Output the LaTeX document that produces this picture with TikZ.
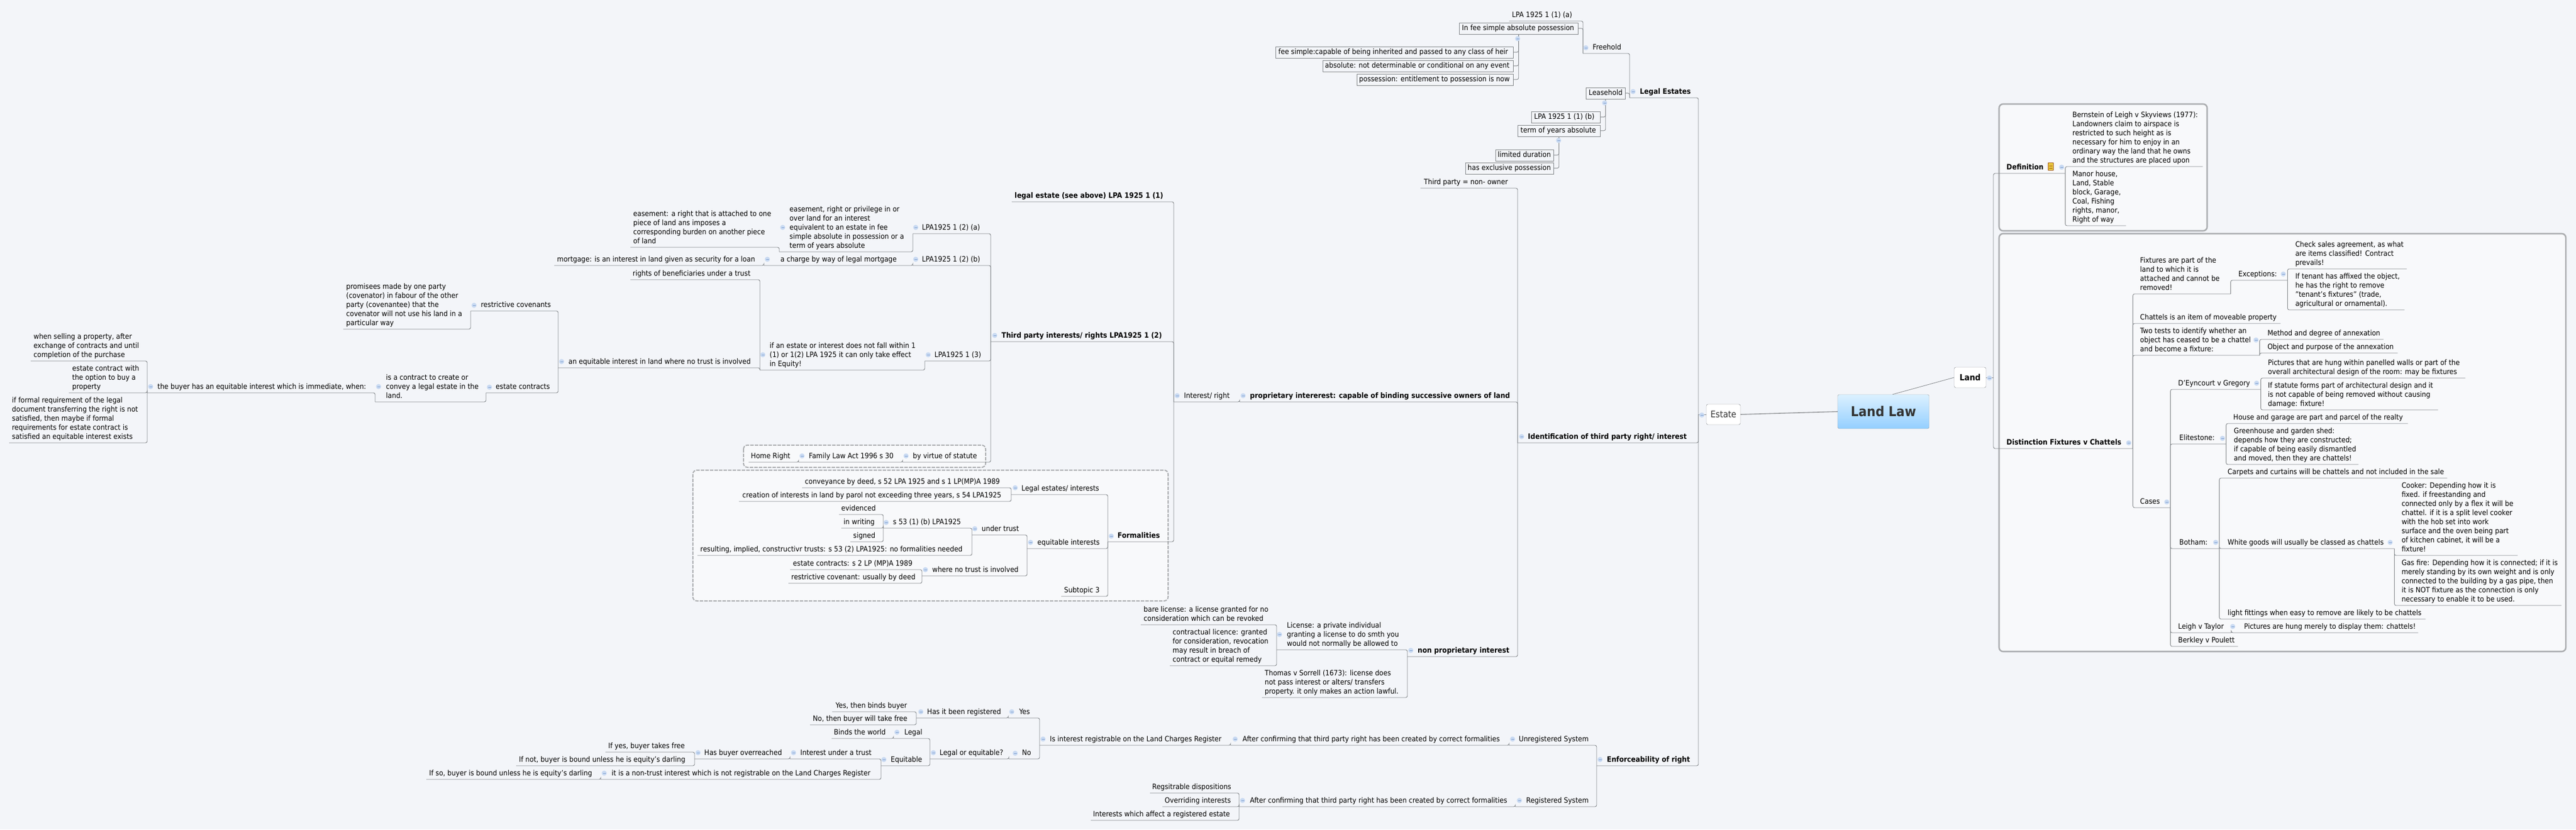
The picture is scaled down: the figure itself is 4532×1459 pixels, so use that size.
\documentclass[tikz,border=0pt]{standalone}
\usepackage{fontspec}
\setmainfont{DejaVu Sans Condensed}
\definecolor{pagebg}{HTML}{F3F5F9}
\definecolor{bandbg}{HTML}{F8F9FB}
\definecolor{linkgray}{HTML}{808488}
\definecolor{bandgray}{HTML}{ABADB0}
\definecolor{foldblue}{HTML}{C9DAF2}
\definecolor{foldline}{HTML}{7F9FCF}
\tikzset{
    topic/.style={anchor=south west, inner xsep=0pt, inner ysep=1.2pt, font=\fontsize{13}{16}\selectfont},
    boxed/.style={draw=linkgray, inner ysep=2pt},
    link/.style={draw=linkgray, line width=.9pt, rounded corners=3pt},
    fold/.style={circle, fill=foldblue, inner sep=0pt, minimum size=9pt,
        path picture={\draw[foldline, line width=.8pt] ([xshift=-2.5pt]path picture bounding box.center) -- ([xshift=2.5pt]path picture bounding box.center);}},
    band/.style={draw=bandgray, fill=bandbg, line width=2.6pt, rounded corners=7pt},
    dashband/.style={draw=bandgray, fill=bandbg, line width=2pt, rounded corners=7pt, dash pattern=on 6pt off 2pt},
    bubble/.style={draw=linkgray, fill=white, rounded corners=3pt, inner sep=0pt, text=black!80},
}
\newcommand{\headtext}{\fontsize{13.1}{16}\selectfont\bfseries}
% name-left, text start, right, underline y
\newcommand{\topicnode}[7][]{%
    \pgfmathsetmacro\wid{#5-#3}\pgfmathsetmacro\ind{#4-#3}%
    \node[topic,#1] (#2) at (#3,#6) {\makebox[\wid pt][l]{\hspace*{\ind pt}\begin{tabular}[b]{@{}l@{}}#7\end{tabular}}};}

\begin{document}
\begin{tikzpicture}[x=1pt,y=-1pt]
    \useasboundingbox (0,0) rectangle (4532,1459);
    \fill[pagebg] (0,0) rectangle (4532,1459);

    % boundaries
    \draw[dashband] (1308,783) rectangle (1734,822);
    \draw[dashband] (1219,827) rectangle (2055,1057);
    \draw[band] (3517,183) rectangle (3883,406);
    \draw[band] (3517,411) rectangle (4514,1146);

    % far left
    \topicnode{whenselling}{54}{59}{259}{635}{when selling a property, after\\exchange of contracts and until\\completion of the purchase}
    \topicnode{estoption}{121}{127}{259}{691}{estate contract with\\the option to buy a\\property}
    \topicnode{ifformal}{16}{21}{259}{779}{if formal requirement of the legal\\document transferring the right is not\\satisfied, then maybe if formal\\requirements for estate contract is\\satisfied an equitable interest exists}
    \topicnode{buyer}{259}{277}{660}{691}{the buyer has an equitable interest which is immediate, when:}
    \topicnode{contract}{660}{679}{855}{707}{is a contract to create or\\convey a legal estate in the\\land.}
    \topicnode{estcontracts}{855}{872}{982}{691}{estate contracts}
    \topicnode{promisees}{604}{609}{828}{579}{promisees made by one party\\(covenator) in fabour of the other\\party (covenantee) that the\\covenator will not use his land in a\\particular way}
    \topicnode{restrictive}{828}{846}{982}{547}{restrictive covenants}
    \topicnode{equitland}{982}{1000}{1337}{647}{an equitable interest in land where no trust is involved}

    % third party rights
    \topicnode{easeright}{1109}{1114}{1371}{435}{easement: a right that is attached to one\\piece of land ans imposes a\\corresponding burden on another piece\\of land}
    \topicnode{easepriv}{1371}{1389}{1606}{443}{easement, right or privilege in or\\over land for an interest\\equivalent to an estate in fee\\simple absolute in possession or a\\term of years absolute}
    \topicnode{lpaa}{1606}{1622}{1743}{411}{LPA1925 1 (2) (a)}
    \topicnode{mortgage}{975}{980}{1344}{467}{mortgage: is an interest in land given as security for a loan}
    \topicnode{charge}{1344}{1373}{1606}{467}{a charge by way of legal mortgage}
    \topicnode{lpab}{1606}{1622}{1743}{467}{LPA1925 1 (2) (b)}
    \topicnode{rightsben}{1109}{1113}{1337}{492}{rights of beneficiaries under a trust}
    \topicnode{ifestate}{1337}{1354}{1627}{651}{if an estate or interest does not fall within 1\\(1) or 1(2) LPA 1925 it can only take effect\\in Equity!}
    \topicnode{lpac}{1627}{1644}{1743}{635}{LPA1925 1 (3)}
    \topicnode{homeright}{1317}{1321}{1405}{813}{Home Right}
    \topicnode{familyact}{1405}{1423}{1588}{813}{Family Law Act 1996 s 30}
    \topicnode{statute}{1588}{1606}{1743}{813}{by virtue of statute}
    \topicnode{legalsee}{1780}{1785}{2065}{355}{\headtext legal estate (see above) LPA 1925 1 (1)}
    \topicnode{thirdrights}{1743}{1762}{2065}{601}{\headtext Third party interests/ rights LPA1925 1 (2)}

    % formalities
    \topicnode{conveyance}{1411}{1416}{1779}{858}{conveyance by deed, s 52 LPA 1925 and s 1 LP(MP)A 1989}
    \topicnode{creation}{1300}{1306}{1779}{882}{creation of interests in land by parol not exceeding three years, s 54 LPA1925}
    \topicnode{legalint}{1779}{1797}{1949}{870}{Legal estates/ interests}
    \topicnode{evidenced}{1476}{1480}{1554}{905}{evidenced}
    \topicnode{inwriting}{1480}{1484}{1554}{929}{in writing}
    \topicnode{signed}{1496}{1501}{1554}{953}{signed}
    \topicnode{sfiftythree}{1554}{1571}{1710}{929}{s 53 (1) (b) LPA1925}
    \topicnode{resulting}{1227}{1232}{1710}{977}{resulting, implied, constructivr trusts: s 53 (2) LPA1925: no formalities needed}
    \topicnode{undertrust}{1710}{1727}{1807}{941}{under trust}
    \topicnode{estcontwo}{1390}{1395}{1622}{1002}{estate contracts: s 2 LP (MP)A 1989}
    \topicnode{restcov}{1387}{1392}{1622}{1026}{restrictive covenant: usually by deed}
    \topicnode{notrust}{1622}{1640}{1807}{1013}{where no trust is involved}
    \topicnode{equitint}{1807}{1825}{1949}{965}{equitable interests}
    \topicnode{subtopic}{1867}{1872}{1949}{1049}{Subtopic 3}
    \topicnode{formal}{1949}{1966}{2065}{953}{\headtext Formalities}

    % registers
    \topicnode{yesbinds}{1464}{1470}{1612}{1252}{Yes, then binds buyer}
    \topicnode{nobuyer}{1425}{1430}{1612}{1275}{No, then buyer will take free}
    \topicnode{registered}{1612}{1631}{1774}{1263}{Has it been registered}
    \topicnode{yesnode}{1774}{1793}{1829}{1263}{Yes}
    \topicnode{binds}{1463}{1467}{1572}{1299}{Binds the world}
    \topicnode{legalnode}{1572}{1591}{1636}{1299}{Legal}
    \topicnode{ifyes}{1065}{1070}{1222}{1323}{If yes, buyer takes free}
    \topicnode{ifnot}{908}{913}{1222}{1347}{If not, buyer is bound unless he is equity's darling}
    \topicnode{overreach}{1222}{1239}{1390}{1335}{Has buyer overreached}
    \topicnode{trustint}{1390}{1408}{1550}{1335}{Interest under a trust}
    \topicnode{ifso}{750}{755}{1057}{1371}{If so, buyer is bound unless he is equity's darling}
    \topicnode{nontrust}{1057}{1076}{1550}{1371}{it is a non-trust interest which is not registrable on the Land Charges Register}
    \topicnode{equitbl}{1550}{1567}{1636}{1347}{Equitable}
    \topicnode{legalq}{1636}{1653}{1775}{1335}{Legal or equitable?}
    \topicnode{nonode}{1775}{1798}{1829}{1335}{No}
    \topicnode{isreg}{1829}{1847}{2165}{1311}{Is interest registrable on the Land Charges Register}
    \topicnode{confirmone}{2165}{2186}{2655}{1311}{After confirming that third party right has been created by correct formalities}
    \topicnode{unreg}{2655}{2672}{2809}{1311}{Unregistered System}
    \topicnode{regdisp}{2023}{2027}{2180}{1395}{Regsitrable dispositions}
    \topicnode{overriding}{2045}{2049}{2180}{1419}{Overriding interests}
    \topicnode{affect}{1919}{1923}{2180}{1443}{Interests which affect a registered estate}
    \topicnode{confirmtwo}{2180}{2199}{2666}{1419}{After confirming that third party right has been created by correct formalities}
    \topicnode{regsys}{2666}{2685}{2809}{1419}{Registered System}
    \topicnode{enforce}{2809}{2827}{2988}{1347}{\headtext Enforceability of right}

    % licences
    \topicnode{bare}{2007}{2012}{2246}{1099}{bare license: a license granted for no\\consideration which can be revoked}
    \topicnode{contractual}{2058}{2063}{2246}{1171}{contractual licence: granted\\for consideration, revocation\\may result in breach of\\contract or equital remedy}
    \topicnode{license}{2246}{2264}{2476}{1143}{License: a private individual\\granting a license to do smth you\\would not normally be allowed to}
    \topicnode{thomas}{2220}{2225}{2476}{1227}{Thomas v Sorrell (1673): license does\\not pass interest or alters/ transfers\\property. it only makes an action lawful.}
    \topicnode{nonprop}{2476}{2494}{2669}{1155}{\headtext non proprietary interest}
    \topicnode{interest}{2065}{2083}{2181}{707}{Interest/ right}
    \topicnode{propint}{2181}{2199}{2670}{707}{\headtext proprietary intererest: capable of binding successive owners of land}
    \topicnode{thirdowner}{2499}{2505}{2670}{331}{Third party = non- owner}
    \topicnode{identif}{2670}{2688}{2988}{779}{\headtext Identification of third party right/ interest}

    % legal estates
    \topicnode{lpaone}{2655}{2660}{2784}{37}{LPA 1925 1 (1) (a)}
    \topicnode[boxed]{infee}{2567}{2572}{2776}{60}{In fee simple absolute possession}
    \topicnode[boxed]{feesimple}{2244}{2249}{2662}{102}{fee simple:capable of being inherited and passed to any class of heir}
    \topicnode[boxed]{absolute}{2327}{2331}{2662}{126}{absolute: not determinable or conditional on any event}
    \topicnode[boxed]{possession}{2387}{2391}{2662}{150}{possession: entitlement to possession is now}
    \topicnode{freehold}{2785}{2802}{2867}{94}{Freehold}
    \topicnode[boxed]{leasehold}{2790}{2795}{2859}{174}{Leasehold}
    \topicnode[boxed]{lpatwo}{2694}{2699}{2815}{216}{LPA 1925 1 (1) (b)}
    \topicnode[boxed]{termyears}{2670}{2675}{2815}{240}{term of years absolute}
    \topicnode[boxed]{limited}{2631}{2635}{2733}{283}{limited duration}
    \topicnode[boxed]{exclusive}{2578}{2582}{2733}{306}{has exclusive possession}
    \topicnode{legalest}{2867}{2885}{2988}{172}{\headtext Legal Estates}

    % land side
    \topicnode{definition}{3507}{3530}{3633}{305}{\headtext Definition}
    \topicnode{bernstein}{3633}{3646}{3875}{293}{Bernstein of Leigh v Skyviews (1977):\\Landowners claim to airspace is\\restricted to such height as is\\necessary for him to enjoy in an\\ordinary way the land that he owns\\and the structures are placed upon}
    \topicnode{manor}{3633}{3646}{3740}{397}{Manor house,\\Land, Stable\\block, Garage,\\Coal, Fishing\\rights, manor,\\Right of way}
    \topicnode{distinction}{3507}{3530}{3752}{789}{\headtext Distinction Fixtures v Chattels}
    \topicnode{fixtures}{3752}{3765}{3924}{517}{Fixtures are part of the\\land to which it is\\attached and cannot be\\removed!}
    \topicnode{exceptions}{3924}{3938}{4024}{493}{Exceptions:}
    \topicnode{checksales}{4024}{4038}{4234}{473}{Check sales agreement, as what\\are items classified! Contract\\prevails!}
    \topicnode{iftenant}{4024}{4038}{4230}{545}{If tenant has affixed the object,\\he has the right to remove\\"tenant's fixtures" (trade,\\agricultural or ornamental).}
    \topicnode{chattels}{3752}{3765}{4012}{569}{Chattels is an item of moveable property}
    \topicnode{twotests}{3752}{3765}{3975}{625}{Two tests to identify whether an\\object has ceased to be a chattel\\and become a fixture:}
    \topicnode{method}{3975}{3989}{4193}{597}{Method and degree of annexation}
    \topicnode{objectpur}{3975}{3989}{4218}{621}{Object and purpose of the annexation}
    \topicnode{cases}{3752}{3765}{3818}{893}{Cases}
    \topicnode{deyncourt}{3818}{3832}{3977}{685}{D'Eyncourt v Gregory}
    \topicnode{picturesin}{3977}{3990}{4337}{665}{Pictures that are hung within panelled walls or part of the\\overall architectural design of the room: may be fixtures}
    \topicnode{ifstatute}{3977}{3990}{4289}{721}{If statute forms part of architectural design and it\\is not capable of being removed without causing\\damage: fixture!}
    \topicnode{elitestone}{3818}{3834}{3916}{781}{Elitestone:}
    \topicnode{housegar}{3916}{3929}{4236}{745}{House and garage are part and parcel of the realty}
    \topicnode{greenhouse}{3916}{3930}{4149}{817}{Greenhouse and garden shed:\\depends how they are constructed;\\if capable of being easily dismantled\\and moved, then they are chattels!}
    \topicnode{botham}{3818}{3834}{3904}{965}{Botham:}
    \topicnode{carpets}{3904}{3919}{4305}{841}{Carpets and curtains will be chattels and not included in the sale}
    \topicnode{whitegoods}{3904}{3919}{4212}{965}{White goods will usually be classed as chattels}
    \topicnode{cooker}{4212}{4225}{4429}{977}{Cooker: Depending how it is\\fixed. if freestanding and\\connected only by a flex it will be\\chattel. if it is a split level cooker\\with the hob set into work\\surface and the oven being part\\of kitchen cabinet, it will be a\\fixture!}
    \topicnode{gasfire}{4212}{4225}{4506}{1065}{Gas fire: Depending how it is connected; if it is\\merely standing by its own weight and is only\\connected to the building by a gas pipe, then\\it is NOT fixture as the connection is only\\necessary to enable it to be used.}
    \topicnode{lightfit}{3904}{3919}{4267}{1089}{light fittings when easy to remove are likely to be chattels}
    \topicnode{leigh}{3818}{3832}{3925}{1113}{Leigh v Taylor}
    \topicnode{hungmerely}{3925}{3948}{4254}{1113}{Pictures are hung merely to display them: chattels!}
    \topicnode{berkley}{3818}{3832}{3937}{1137}{Berkley v Poulett}

    % central topics
    \node[bubble, minimum width=161pt, minimum height=60pt, draw=linkgray!80, top color=blue!40!cyan!14, bottom color=blue!45!cyan!42, font=\fontsize{24}{28}\selectfont\bfseries] (landlaw) at (3313.5,724) {Land Law};
    \node[bubble, minimum width=60pt, minimum height=36pt, font=\fontsize{16}{18}\selectfont] (estate) at (3032,729) {Estate};
    \node[bubble, minimum width=56pt, minimum height=36pt, text=black, font=\fontsize{15}{18}\selectfont\bfseries] (land) at (3466,664) {Land};
    \coordinate (estatebus) at (2988,729);
    \coordinate (landbus) at (3507,664);

    % left hand connectors
    \foreach \c/\p in {whenselling/buyer,estoption/buyer,ifformal/buyer,buyer/contract,contract/estcontracts,
        promisees/restrictive,restrictive/equitland,estcontracts/equitland,easeright/easepriv,easepriv/lpaa,
        mortgage/charge,charge/lpab,rightsben/ifestate,equitland/ifestate,ifestate/lpac,lpaa/thirdrights,
        lpab/thirdrights,lpac/thirdrights,homeright/familyact,familyact/statute,statute/thirdrights,
        legalsee/interest,thirdrights/interest,formal/interest,conveyance/legalint,creation/legalint,
        legalint/formal,equitint/formal,subtopic/formal,evidenced/sfiftythree,inwriting/sfiftythree,
        signed/sfiftythree,sfiftythree/undertrust,resulting/undertrust,undertrust/equitint,estcontwo/notrust,
        restcov/notrust,notrust/equitint,interest/propint,thirdowner/identif,propint/identif,nonprop/identif,
        bare/license,contractual/license,license/nonprop,thomas/nonprop,yesbinds/registered,nobuyer/registered,
        registered/yesnode,yesnode/isreg,binds/legalnode,legalnode/legalq,ifyes/overreach,ifnot/overreach,
        overreach/trustint,trustint/equitbl,ifso/nontrust,nontrust/equitbl,equitbl/legalq,legalq/nonode,
        nonode/isreg,isreg/confirmone,confirmone/unreg,unreg/enforce,regdisp/confirmtwo,overriding/confirmtwo,
        affect/confirmtwo,confirmtwo/regsys,regsys/enforce,lpaone/freehold,freehold/legalest}{
            \draw[link] (\c.south west) -| (\p.south west);
    }
    \foreach \c in {legalest,identif,enforce}{
            \draw[link] (\c.south west) -| (estatebus);
    }

    % right hand connectors
    \foreach \c/\p in {bernstein/definition,manor/definition,fixtures/distinction,exceptions/fixtures,
        checksales/exceptions,iftenant/exceptions,chattels/distinction,twotests/distinction,method/twotests,
        objectpur/twotests,cases/distinction,deyncourt/cases,picturesin/deyncourt,ifstatute/deyncourt,
        elitestone/cases,housegar/elitestone,greenhouse/elitestone,botham/cases,carpets/botham,
        whitegoods/botham,cooker/whitegoods,gasfire/whitegoods,lightfit/botham,leigh/cases,
        hungmerely/leigh,berkley/cases}{
            \draw[link] (\c.south east) -| (\p.south east);
    }
    \foreach \c in {definition,distinction}{
            \draw[link] (\c.south east) -| (landbus);
    }

    % boxed topics
    \foreach \c/\p in {feesimple/infee,absolute/infee,possession/infee,lpatwo/leasehold,termyears/leasehold,
        limited/termyears,exclusive/termyears}{
            \draw[link] (\c.east) -| (\p.south);
    }
    \draw[link] (infee.east) -| (freehold.south west);
    \draw[link] (leasehold.east) -| (legalest.south west);

    % big links
    \draw[link] (estate.west) -- (estatebus);
    \draw[link] (land.east) -- (landbus);
    \draw[linkgray!80, line width=1.6pt] (estate.east) -- (landlaw.west);
    \draw[linkgray, line width=.8pt] (landlaw.62) -- (land.west);

    % fold marks
    \foreach \x/\y [count=\i] in {265/680,666/680,861/681,834/537,988/636,1377/400,1611/400,1350/456,1611/456,
        1342/624,1633/624,1750/590,1411/802,1594/802,1786/858,1559/919,1715/930,1628/1002,1813/954,1955/943,
        2071/696,2187/696,2677/768,2994/730,1620/1252,1780/1252,1578/1288,1228/1324,1396/1324,1555/1336,
        1063/1360,1642/1324,1786/1325,1835/1300,2173/1300,2661/1300,2186/1408,2673/1408,2815/1336,2482/1144,
        2251/1116,2670/68,2823/181,2742/247,2790/84,2873/161,3500/665,3627/294,3745/779,4017/482,3969/598,
        3970/674,3910/771,3812/883,3898/954,4205/954,3928/1102}{
            \node[fold] (fold\i) at (\x,\y) {};
    }

    % note
    \node[rectangle, draw=black!40!orange, fill=yellow!70!orange!70, minimum width=9pt, minimum height=13pt, inner sep=0pt,
        path picture={\foreach \k in {-3,0,3}{\draw[black!40!orange] ([xshift=-3pt,yshift=\k pt]path picture bounding box.center) -- ([xshift=3pt,yshift=\k pt]path picture bounding box.center);}}] (note) at (3608,293) {};
\end{tikzpicture}
\end{document}
